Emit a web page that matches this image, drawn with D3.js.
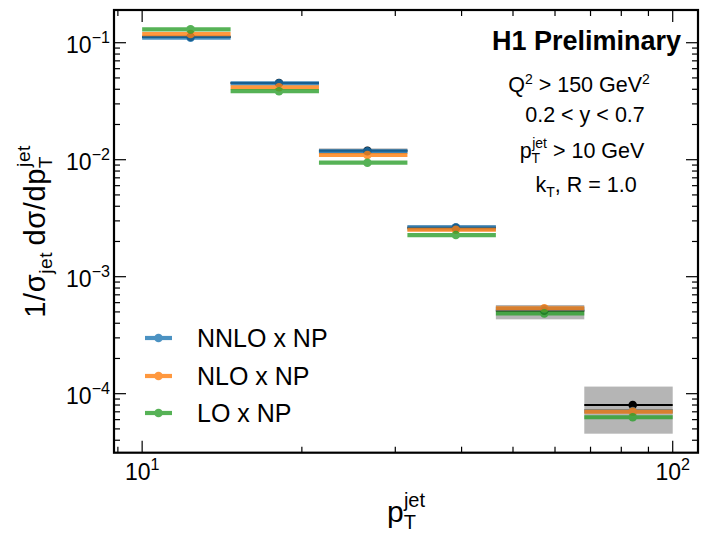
<!DOCTYPE html>
<html><head><meta charset="utf-8">
<script src="https://cdn.jsdelivr.net/npm/d3@7"></script>
<style>
body{margin:0;background:#fff}
text{font-family:"Liberation Sans",Arial,Helvetica,sans-serif;fill:#000}
</style>
</head><body>
<svg id="chart" width="701" height="533"></svg>
<script>
// ---- data ----
const binEdges = [10, 14.68, 21.54, 31.62, 46.42, 68.13, 100];
const dataVals = [0.112, 0.0452, 0.0119, 0.00262, 0.000512, 0.0000800];
const dataLow  = [0.109, 0.0440, 0.0113, 0.00245, 0.000432, 0.0000455];
const dataHigh = [0.115, 0.0464, 0.0125, 0.00275, 0.000573, 0.000115];
const nnloVals = [0.1106, 0.0450, 0.0118, 0.00264, 0.000530, 0.0000710];
const nloVals  = [0.1186, 0.0416, 0.01097, 0.00252, 0.000537, 0.0000702];
const loVals   = [0.130, 0.0385, 0.00943, 0.00227, 0.000486, 0.0000629];
const seriesNames = ["NNLO x NP", "NLO x NP", "LO x NP"];
const seriesColors = ["#1f77b4", "#ff7f0e", "#2ca02c"];
const xMajorTicks = [10, 100];
const xTickExps = ["1", "2"];
const yMajorTicks = [1e-1, 1e-2, 1e-3, 1e-4];
const yTickExps = ["\u22121", "\u22122", "\u22123", "\u22124"];

const series = [nnloVals, nloVals, loVals].map((v, i) => ({name: seriesNames[i], color: seriesColors[i], values: v}));

// ---- layout ----
const L = 114, R = 698, T = 10, B = 452.7;
const svg = d3.select("#chart");
const x = d3.scaleLog().domain([8.85, 111.6]).range([L, R]);
const y = d3.scaleLog().domain([3.13e-5, 0.1904]).range([B, T]);

const bins = dataVals.map((d, i) => ({lo: binEdges[i], hi: binEdges[i+1], c: (binEdges[i] + binEdges[i+1]) / 2, v: d, el: dataLow[i], eh: dataHigh[i]}));

// data uncertainty boxes
svg.append("g").selectAll("rect").data(bins).join("rect")
  .attr("x", d => x(d.lo)).attr("width", d => x(d.hi) - x(d.lo))
  .attr("y", d => y(d.eh)).attr("height", d => y(d.el) - y(d.eh))
  .attr("fill", "#a8a8a8").attr("fill-opacity", 0.85);

// data line
const dg = svg.append("g");
dg.selectAll("line").data(bins).join("line")
  .attr("x1", d => x(d.lo)).attr("x2", d => x(d.hi))
  .attr("y1", d => y(d.v)).attr("y2", d => y(d.v))
  .attr("stroke", "#000").attr("stroke-width", 2);
dg.selectAll("circle").data(bins).join("circle")
  .attr("cx", d => x(d.c)).attr("cy", d => y(d.v)).attr("r", 4.3).attr("fill", "#000");

// predictions
series.forEach(s => {
  const g = svg.append("g").attr("opacity", 0.8);
  const pts = s.values.map((v, i) => ({lo: binEdges[i], hi: binEdges[i+1], c: (binEdges[i] + binEdges[i+1]) / 2, v}));
  g.selectAll("line").data(pts).join("line")
    .attr("x1", d => x(d.lo)).attr("x2", d => x(d.hi))
    .attr("y1", d => y(d.v)).attr("y2", d => y(d.v))
    .attr("stroke", s.color).attr("stroke-width", 4.2);
  g.selectAll("circle").data(pts).join("circle")
    .attr("cx", d => x(d.c)).attr("cy", d => y(d.v)).attr("r", 4.3).attr("fill", s.color);
});

// ---- frame & ticks ----
function minorTicks(dom) {
  const out = [];
  for (let e = -6; e <= 3; e++) for (let k = 2; k <= 9; k++) {
    const v = k * Math.pow(10, e);
    if (v >= dom[0] && v <= dom[1]) out.push(v);
  }
  return out;
}
const xMinor = minorTicks(x.domain());
const yMinor = minorTicks(y.domain());
const tg = svg.append("g").attr("stroke", "#000").attr("stroke-width", 1.2);
const MAJ = 12, MIN = 6;
xMajorTicks.forEach(v => {
  tg.append("line").attr("x1", x(v)).attr("x2", x(v)).attr("y1", B).attr("y2", B - MAJ);
  tg.append("line").attr("x1", x(v)).attr("x2", x(v)).attr("y1", T).attr("y2", T + MAJ);
});
xMinor.forEach(v => {
  tg.append("line").attr("x1", x(v)).attr("x2", x(v)).attr("y1", B).attr("y2", B - MIN);
  tg.append("line").attr("x1", x(v)).attr("x2", x(v)).attr("y1", T).attr("y2", T + MIN);
});
yMajorTicks.forEach(v => {
  tg.append("line").attr("y1", y(v)).attr("y2", y(v)).attr("x1", L).attr("x2", L + MAJ);
  tg.append("line").attr("y1", y(v)).attr("y2", y(v)).attr("x1", R).attr("x2", R - MAJ);
});
yMinor.forEach(v => {
  tg.append("line").attr("y1", y(v)).attr("y2", y(v)).attr("x1", L).attr("x2", L + MIN);
  tg.append("line").attr("y1", y(v)).attr("y2", y(v)).attr("x1", R).attr("x2", R - MIN);
});
svg.append("rect").attr("x", L).attr("y", T).attr("width", R - L).attr("height", B - T)
  .attr("fill", "none").attr("stroke", "#000").attr("stroke-width", 2.2);

// tick labels
function powLabel(g, xx, yy, exp, anchor, fs) {
  const t = g.append("text").attr("x", xx).attr("y", yy).attr("text-anchor", anchor).style("font-size", fs + "px");
  t.append("tspan").text("10");
  t.append("tspan").attr("dy", -fs * 0.42).style("font-size", (fs * 0.7) + "px").text(exp);
  return t;
}
const lg = svg.append("g");
yMajorTicks.forEach((v, i) => powLabel(lg, 110, y(v) + 10, yTickExps[i], "end", 23));
xMajorTicks.forEach((v, i) => powLabel(lg, x(v), 480, xTickExps[i], "middle", 23));

// axis titles
const xt = svg.append("text").attr("x", (L + R) / 2).attr("y", 522).attr("text-anchor", "middle").style("font-size", "30px");
xt.append("tspan").text("p");
xt.append("tspan").attr("dy", 7).style("font-size", "20px").text("T");
xt.append("tspan").attr("dx", -12).attr("dy", -22).style("font-size", "20px").text("jet");

const yt = svg.append("text").attr("transform", `translate(45,${(T + B) / 2}) rotate(-90)`).attr("text-anchor", "middle")
  .style("font-size", "29px").style("letter-spacing", "0.6px");
yt.append("tspan").text("1/\u03c3");
yt.append("tspan").attr("dy", 7).style("font-size", "19px").text("jet");
yt.append("tspan").attr("dy", -7).text("\u2009d\u03c3/dp");
yt.append("tspan").attr("dy", 7).style("font-size", "19px").text("T");
yt.append("tspan").attr("dx", -11).attr("dy", -22).style("font-size", "19px").text("jet");

// annotations
svg.append("text").attr("x", 681).attr("y", 50).attr("text-anchor", "end")
  .style("font-size", "27px").style("font-weight", "bold").text("H1 Preliminary");
const cx = 579;
const a1 = svg.append("text").attr("x", cx).attr("y", 92).attr("text-anchor", "middle").style("font-size", "21.5px");
a1.append("tspan").text("Q");
a1.append("tspan").attr("dy", -8).style("font-size", "14px").text("2");
a1.append("tspan").attr("dy", 8).text(" > 150 GeV");
a1.append("tspan").attr("dy", -8).style("font-size", "14px").text("2");
svg.append("text").attr("x", cx + 6).attr("y", 122).attr("text-anchor", "middle").style("font-size", "21.5px").text("0.2 < y < 0.7");
const a3 = svg.append("text").attr("x", cx + 3).attr("y", 158).attr("text-anchor", "middle").style("font-size", "21.5px");
a3.append("tspan").text("p");
a3.append("tspan").attr("dy", 5).style("font-size", "14px").text("T");
a3.append("tspan").attr("dx", -8).attr("dy", -15).style("font-size", "14px").text("jet");
a3.append("tspan").attr("dy", 10).text(" > 10 GeV");
const a4 = svg.append("text").attr("x", cx + 7).attr("y", 192).attr("text-anchor", "middle").style("font-size", "21.5px");
a4.append("tspan").text("k");
a4.append("tspan").attr("dy", 5).style("font-size", "14px").text("T");
a4.append("tspan").attr("dy", -5).text(", R = 1.0");

// legend
const legRows = [338, 376, 413];
series.forEach((s, i) => {
  const g = svg.append("g");
  const yy = legRows[i];
  const m = g.append("g").attr("opacity", 0.8);
  m.append("line").attr("x1", 145).attr("x2", 172).attr("y1", yy).attr("y2", yy).attr("stroke", s.color).attr("stroke-width", 4.2);
  m.append("circle").attr("cx", 158.5).attr("cy", yy).attr("r", 4.3).attr("fill", s.color);
  g.append("text").attr("x", 197).attr("y", yy + 9).style("font-size", "25px").text(s.name);
});
</script>
</body></html>
